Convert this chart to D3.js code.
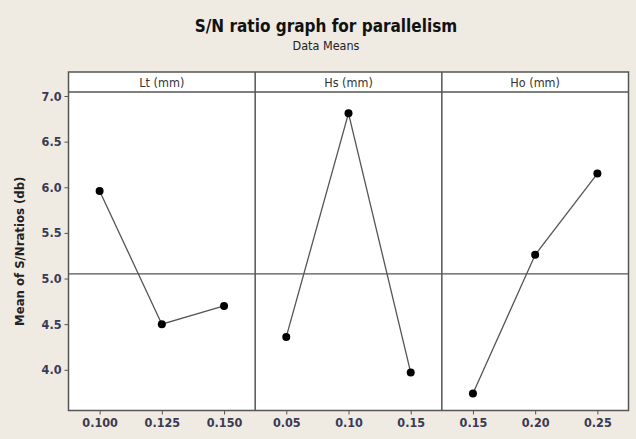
<!DOCTYPE html>
<meta charset="utf-8">
<script src="https://cdn.jsdelivr.net/npm/d3@7"></script>
<style>
  body { margin: 0; background: #efebe2; }
  svg { display: block; }
</style>
<svg width="636" height="439"></svg>
<script>
// factors and their levels
var factors = ["Lt (mm)", "Hs (mm)", "Ho (mm)"];
var ltLevels = ["0.100", "0.125", "0.150"];
var hsLevels = ["0.05", "0.10", "0.15"];
var hoLevels = ["0.15", "0.20", "0.25"];
var ltMeans = [5.96, 4.50, 4.70];
var hsMeans = [4.36, 6.81, 3.97];
var hoMeans = [3.74, 5.26, 6.15];
var yTicks = [4.0, 4.5, 5.0, 5.5, 6.0, 6.5, 7.0];

var levels = [ltLevels, hsLevels, hoLevels];
var means = [ltMeans, hsMeans, hoMeans];

var svg = d3.select("svg"),
  plotLeft = 68.5, plotRight = 628.5, plotTop = 72, stripH = 20, plotBottom = 410.5;

var grandMean = d3.mean([].concat(ltMeans, hsMeans, hoMeans));

var y = d3.scaleLinear()
  .domain([3.554, 7.044])
  .range([plotBottom, plotTop + stripH]);

var panel = d3.scaleBand()
  .domain(factors)
  .range([plotLeft, plotRight]);

// background of plot
svg.append("rect")
  .attr("x", plotLeft).attr("y", plotTop)
  .attr("width", plotRight - plotLeft).attr("height", plotBottom - plotTop)
  .attr("fill", "#fff");

//Title
svg.append("text")
  .attr("x", 326).attr("y", 32)
  .attr("text-anchor", "middle")
  .style("font", "bold 17px 'DejaVu Sans Condensed', 'DejaVu Sans', sans-serif")
  .attr("fill", "#111")
  .text("S/N ratio graph for parallelism");

svg.append("text")
  .attr("x", 326).attr("y", 50)
  .attr("text-anchor", "middle")
  .style("font", "12.5px 'DejaVu Sans Condensed', 'DejaVu Sans', sans-serif")
  .attr("fill", "#222")
  .text("Data Means");

//y label
svg.append("text")
  .attr("transform", "translate(24," + ((plotTop + stripH + plotBottom) / 2) + ") rotate(-90)")
  .attr("text-anchor", "middle")
  .style("font", "bold 13px 'DejaVu Sans Condensed', 'DejaVu Sans', sans-serif")
  .attr("fill", "#222")
  .text("Mean of S/Nratios (db)");

//Y axis
var yAxis = svg.append("g")
  .attr("transform", "translate(" + plotLeft + ",0)")
  .call(d3.axisLeft(y).tickValues(yTicks).tickFormat(d3.format(".1f")).tickSize(4).tickPadding(3));
yAxis.select(".domain").remove();

//Panels
factors.forEach(function(f, i) {
  var x0 = panel(f), w = panel.bandwidth();
  var x = d3.scalePoint()
    .domain(levels[i])
    .range([x0, x0 + w])
    .padding(0.5);

  var g = svg.append("g");

  // strip label
  g.append("text")
    .attr("x", x0 + w / 2).attr("y", plotTop + 15)
    .attr("text-anchor", "middle")
    .style("font", "12.5px 'DejaVu Sans Condensed', 'DejaVu Sans', sans-serif")
    .attr("fill", "#333")
    .text(f);

  // mean line
  g.append("line")
    .attr("x1", x0).attr("x2", x0 + w)
    .attr("y1", y(grandMean)).attr("y2", y(grandMean))
    .attr("stroke", "#555").attr("stroke-width", 1.2);

  var pts = levels[i].map(function(l, j) { return { lvl: l, v: means[i][j] }; });

  g.append("path")
    .datum(pts)
    .attr("fill", "none")
    .attr("stroke", "#555")
    .attr("stroke-width", 1.3)
    .attr("d", d3.line().x(function(d) { return x(d.lvl); }).y(function(d) { return y(d.v); }));

  g.selectAll("circle")
    .data(pts)
    .enter()
    .append("circle")
    .attr("cx", function(d) { return x(d.lvl); })
    .attr("cy", function(d) { return y(d.v); })
    .attr("r", 4)
    .attr("fill", "#000");

  var xAxis = svg.append("g")
    .attr("transform", "translate(0," + plotBottom + ")")
    .call(d3.axisBottom(x).tickSize(4).tickPadding(4));
  xAxis.select(".domain").remove();
});

// styling of axis text
svg.selectAll(".tick text")
  .style("font", "bold 12.5px 'DejaVu Sans Condensed', 'DejaVu Sans', sans-serif")
  .attr("fill", "#3a3a55");
svg.selectAll(".tick line").attr("stroke", "#555");

// frame, strip and panel dividers
svg.append("rect")
  .attr("x", plotLeft).attr("y", plotTop)
  .attr("width", plotRight - plotLeft).attr("height", plotBottom - plotTop)
  .attr("fill", "none").attr("stroke", "#555").attr("stroke-width", 1.5);

svg.append("line")
  .attr("x1", plotLeft).attr("x2", plotRight)
  .attr("y1", plotTop + stripH).attr("y2", plotTop + stripH)
  .attr("stroke", "#555").attr("stroke-width", 1.5);

factors.slice(1).forEach(function(f) {
  svg.append("line")
    .attr("x1", panel(f)).attr("x2", panel(f))
    .attr("y1", plotTop).attr("y2", plotBottom)
    .attr("stroke", "#555").attr("stroke-width", 1.5);
});
</script>
